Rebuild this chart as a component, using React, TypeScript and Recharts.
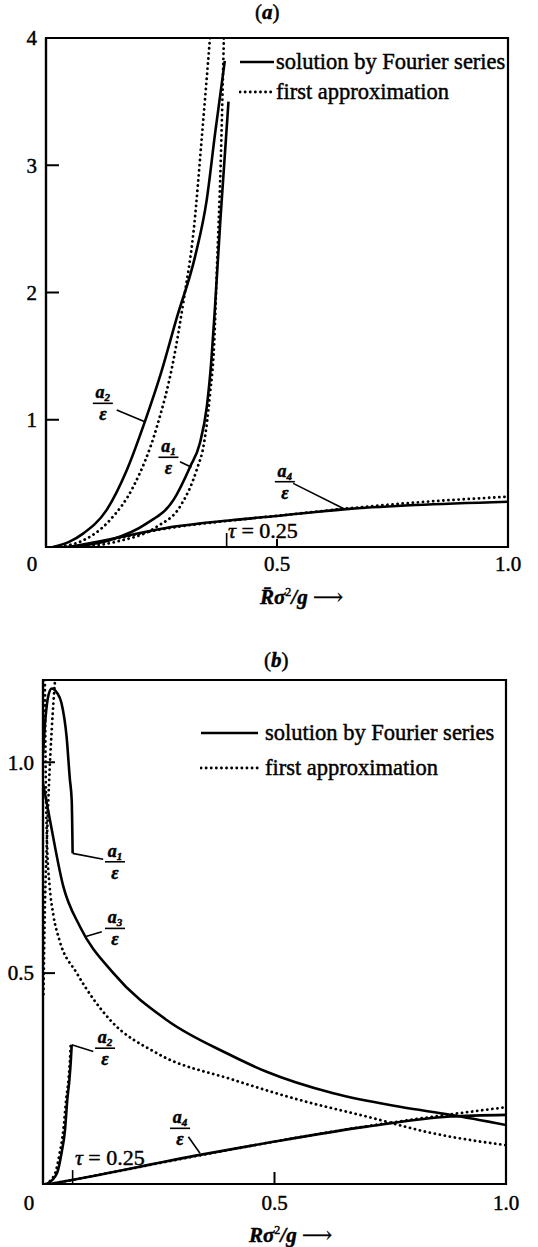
import React from "react";
import {
  LineChart,
  Line,
  XAxis,
  YAxis,
  ReferenceArea,
  ReferenceLine,
  ReferenceDot,
  Legend,
} from "recharts";

const SERIF = "'Liberation Serif', 'DejaVu Serif', serif";

// ---- panel (a) ----
const aTicksX = [0, 0.5, 1];
const aTicksY = [1, 2, 3, 4];

const aA2FourierX = [0.015, 0.05, 0.081, 0.131, 0.175, 0.214, 0.25, 0.283, 0.3225, 0.348, 0.366, 0.387];
const aA2FourierY = [0, 0.04, 0.107, 0.29, 0.605, 0.985, 1.38, 1.8, 2.28, 2.73, 3.25, 3.82];
const aA2ApproxX = [0.02, 0.074, 0.1385, 0.189, 0.24, 0.276, 0.298, 0.32, 0.338, 0.355];
const aA2ApproxY = [0, 0.042, 0.212, 0.474, 0.945, 1.47, 1.94, 2.5, 3.25, 4.0];

const aA1FourierX = [0.045, 0.139, 0.218, 0.276, 0.312, 0.333, 0.348, 0.358, 0.366, 0.378, 0.395];
const aA1FourierY = [0, 0.055, 0.186, 0.37, 0.631, 0.815, 1.1, 1.47, 1.9, 2.6, 3.5];
const aA1ApproxX = [0.07, 0.153, 0.24, 0.29, 0.326, 0.342, 0.355, 0.364, 0.37, 0.378, 0.385];
const aA1ApproxY = [0, 0.042, 0.16, 0.317, 0.605, 0.815, 1.2, 1.6, 2.2, 3.0, 4.0];

const aA4X = [0.05, 0.117, 0.26, 0.405, 0.5, 0.644, 0.8, 1.0];
const aA4FourierY = [0, 0.045, 0.15, 0.212, 0.244, 0.296, 0.33, 0.356];
const aA4ApproxY = [0, 0.04, 0.145, 0.21, 0.245, 0.3, 0.35, 0.395];

// ---- panel (b) ----
const bTicksX = [0, 0.5, 1];
const bTicksY = [0.5, 1.0];

const bA1FourierX = [0, 0.005, 0.012, 0.019, 0.03, 0.04, 0.051, 0.058, 0.062, 0.064];
const bA1FourierY = [1.02, 1.1, 1.16, 1.175, 1.165, 1.14, 1.06, 0.96, 0.91, 0.784];
const bA1ApproxX = [0.001, 0.004, 0.008, 0.013, 0.019, 0.026];
const bA1ApproxY = [0.45, 0.65, 0.8, 0.95, 1.08, 1.195];

const bA3FourierX = [0, 0.015, 0.044, 0.08, 0.152, 0.267, 0.397, 0.483, 0.627, 0.771, 0.879, 1.0];
const bA3FourierY = [0.95, 0.863, 0.705, 0.61, 0.5, 0.389, 0.31, 0.266, 0.215, 0.183, 0.164, 0.14];
const bA3ApproxX = [0.004, 0.006, 0.009, 0.014, 0.022, 0.035, 0.073, 0.145, 0.246, 0.411, 0.555, 0.699, 0.843, 1.0];
const bA3ApproxY = [1.195, 0.96, 0.8, 0.71, 0.64, 0.58, 0.5, 0.389, 0.31, 0.247, 0.199, 0.16, 0.12, 0.092];

const bA2FourierX = [0.008, 0.03, 0.04, 0.0475, 0.0525, 0.057, 0.06, 0.062];
const bA2FourierY = [0, 0.025, 0.073, 0.128, 0.2, 0.247, 0.29, 0.33];
const bA2ApproxX = [0.006, 0.026, 0.036, 0.044, 0.05, 0.055, 0.058, 0.06];
const bA2ApproxY = [0, 0.025, 0.073, 0.128, 0.2, 0.247, 0.29, 0.335];

const bA4X = [0.015, 0.065, 0.339, 0.497, 0.699, 0.879, 1.0];
const bA4FourierY = [0, 0.01, 0.069, 0.1, 0.136, 0.16, 0.164];
const bA4ApproxY = [0, 0.01, 0.068, 0.1, 0.137, 0.165, 0.182];

const legendLabels = ["solution by Fourier series", "first approximation"];

const zip = (xs: number[], ys: number[]) => xs.map((x, i) => ({ x, y: ys[i] }));

const solid = { stroke: "#000", strokeWidth: 2.6 };
const dotted = { stroke: "#000", strokeWidth: 2.8, strokeDasharray: "0.1 5", strokeLinecap: "round" as const };

// heavier glyphs, like ink-spread print
const svgText = { fontFamily: SERIF, stroke: "#000", strokeWidth: 0.45 };

const curve = (key: string, pts: { x: number; y: number }[], style: object) => (
  <Line
    key={key}
    data={pts}
    dataKey="y"
    type="monotone"
    dot={false}
    activeDot={false}
    isAnimationActive={false}
    {...style}
  />
);

// x ticks point inward from the bottom edge; the origin "0" is shifted left
const makeXTick = (len: number, drop: number) => (props: any) => {
  const { x, y, payload } = props;
  const v = payload.value as number;
  return (
    <g>
      {v > 0 && v < 1 && <line x1={x} x2={x} y1={y} y2={y - len} stroke="#000" strokeWidth={2} />}
      <text x={v === 0 ? x - 14 : x} y={y + drop} textAnchor="middle" style={{ ...svgText, fontSize: 21 }} fill="#000">
        {v === 0 ? "0" : v.toFixed(1)}
      </text>
    </g>
  );
};

// y ticks point inward from the left edge
const makeYTick = (len: number, gap: number, digits: number) => (props: any) => {
  const { x, y, payload } = props;
  const v = payload.value as number;
  return (
    <g>
      <line x1={x} x2={x + len} y1={y} y2={y} stroke="#000" strokeWidth={2} />
      <text x={x - gap} y={y} dy="0.35em" textAnchor="end" style={{ ...svgText, fontSize: 21 }} fill="#000">
        {v.toFixed(digits)}
      </text>
    </g>
  );
};

// a_n / ε stacked over a short bar, centred on the bar
const fracFont = { ...svgText, fontSize: 18, fontStyle: "italic" as const, fontWeight: 700 };

const Frac = ({ cx, cy, sub }: any) => (
  <g fill="#000">
    <text x={cx} y={cy - 5} textAnchor="middle" style={fracFont}>
      a<tspan style={{ fontSize: 11 }} dy={3}>{sub}</tspan>
    </text>
    <line x1={cx - 10} x2={cx + 10} y1={cy} y2={cy} stroke="#000" strokeWidth={1.6} />
    <text x={cx} y={cy + 17} textAnchor="middle" style={fracFont}>
      ε
    </text>
  </g>
);

const Tau = ({ cx, cy }: any) => (
  <text x={cx} y={cy} style={{ ...svgText, fontSize: 22 }} fill="#000">
    <tspan style={{ fontStyle: "italic" }}>τ</tspan> = 0.25
  </text>
);

const fracDot = (x: number, y: number, sub: string) => (
  <ReferenceDot x={x} y={y} r={0} shape={(p: any) => <Frac {...p} sub={sub} />} />
);

const leader = (x1: number, y1: number, x2: number, y2: number) => (
  <ReferenceLine segment={[{ x: x1, y: y1 }, { x: x2, y: y2 }]} stroke="#000" strokeWidth={1.6} />
);

const makeKey = (sample: number, gap: number, row: number) => () => (
  <div style={{ fontFamily: SERIF, fontSize: 22.5, color: "#000", WebkitTextStroke: "0.45px #000" }}>
    {legendLabels.map((label, i) => (
      <div key={label} style={{ display: "flex", alignItems: "center", height: row, whiteSpace: "nowrap" }}>
        <svg width={sample} height={8} style={{ marginRight: gap }}>
          <line
            x1={1}
            x2={sample - 1}
            y1={4}
            y2={4}
            stroke="#000"
            strokeWidth={i === 0 ? 2.6 : 2.8}
            strokeDasharray={i === 0 ? undefined : "0.1 5"}
            strokeLinecap={i === 0 ? "butt" : "round"}
          />
        </svg>
        <span>{label}</span>
      </div>
    ))}
  </div>
);

const textAt = (left: number, top: number, size: number, children: React.ReactNode) => (
  <div
    style={{
      position: "absolute",
      left,
      top,
      fontFamily: SERIF,
      fontSize: size,
      lineHeight: `${size}px`,
      whiteSpace: "nowrap",
      color: "#000",
      WebkitTextStroke: "0.45px #000",
    }}
  >
    {children}
  </div>
);

const axisLine = { stroke: "#000", strokeWidth: 2.2 };

export default function App() {
  return (
    <div style={{ position: "absolute", left: 0, top: 0, width: 538, height: 1247, background: "#fff" }}>
      <div style={{ position: "absolute", left: 0, top: 0 }}>
        <LineChart width={538} height={620} margin={{ top: 38, right: 30, bottom: 0, left: 0 }}>
          <XAxis
            type="number"
            dataKey="x"
            domain={[0, 1]}
            ticks={aTicksX}
            interval={0}
            height={73}
            tickSize={0}
            tickMargin={0}
            tickLine={false}
            axisLine={axisLine}
            tick={makeXTick(8, 24)}
            allowDataOverflow
          />
          <YAxis
            type="number"
            domain={[0, 4]}
            ticks={aTicksY}
            interval={0}
            width={46}
            tickSize={0}
            tickMargin={0}
            tickLine={false}
            axisLine={axisLine}
            tick={makeYTick(13, 9, 0)}
            allowDataOverflow
          />
          <ReferenceArea x1={0} x2={1} y1={0} y2={4} fill="none" stroke="#000" strokeWidth={2.2} />
          {curve("a2f", zip(aA2FourierX, aA2FourierY), solid)}
          {curve("a2a", zip(aA2ApproxX, aA2ApproxY), dotted)}
          {curve("a1f", zip(aA1FourierX, aA1FourierY), solid)}
          {curve("a1a", zip(aA1ApproxX, aA1ApproxY), dotted)}
          {curve("a4f", zip(aA4X, aA4FourierY), solid)}
          {curve("a4a", zip(aA4X, aA4ApproxY), dotted)}
          {leader(0.153, 1.077, 0.214, 0.985)}
          {leader(0.29, 0.67, 0.315, 0.626)}
          {leader(0.535, 0.5, 0.647, 0.296)}
          {leader(0.391, 0, 0.391, 0.11)}
          {fracDot(0.123, 1.129, "2")}
          {fracDot(0.265, 0.705, "1")}
          {fracDot(0.517, 0.513, "4")}
          <ReferenceDot x={0.394} y={0.07} r={0} shape={(p: any) => <Tau {...p} />} />
          <Legend
            layout="vertical"
            align="center"
            verticalAlign="middle"
            wrapperStyle={{ left: 239, top: 47, width: 290 }}
            content={makeKey(36, 1, 30)}
          />
        </LineChart>
      </div>
      {textAt(255, 2, 21, <span>(<i style={{ fontWeight: 700 }}>a</i>)</span>)}
      {textAt(260, 582, 21, (
        <span>
          <i style={{ fontWeight: 700 }}>R&#772;σ</i>
          <sup style={{ fontSize: 12 }}>2</sup>
          <i style={{ fontWeight: 700 }}>/g</i> ⟶
        </span>
      ))}

      <div style={{ position: "absolute", left: 0, top: 620 }}>
        <LineChart width={538} height={627} margin={{ top: 60, right: 32, bottom: 0, left: 0 }}>
          <XAxis
            type="number"
            dataKey="x"
            domain={[0, 1]}
            ticks={bTicksX}
            interval={0}
            height={63}
            tickSize={0}
            tickMargin={0}
            tickLine={false}
            axisLine={axisLine}
            tick={makeXTick(12, 26)}
            allowDataOverflow
          />
          <YAxis
            type="number"
            domain={[0, 1.195]}
            ticks={bTicksY}
            interval={0}
            width={43}
            tickSize={0}
            tickMargin={0}
            tickLine={false}
            axisLine={axisLine}
            tick={makeYTick(12, 9, 1)}
            allowDataOverflow
          />
          <ReferenceArea x1={0} x2={1} y1={0} y2={1.195} fill="none" stroke="#000" strokeWidth={2.2} />
          {curve("b1f", zip(bA1FourierX, bA1FourierY), solid)}
          {curve("b1a", zip(bA1ApproxX, bA1ApproxY), dotted)}
          {curve("b3f", zip(bA3FourierX, bA3FourierY), solid)}
          {curve("b3a", zip(bA3ApproxX, bA3ApproxY), dotted)}
          {curve("b2f", zip(bA2FourierX, bA2FourierY), solid)}
          {curve("b2a", zip(bA2ApproxX, bA2ApproxY), dotted)}
          {curve("b4f", zip(bA4X, bA4FourierY), solid)}
          {curve("b4a", zip(bA4X, bA4ApproxY), dotted)}
          {leader(0.064, 0.784, 0.13, 0.77)}
          {leader(0.0907, 0.586, 0.127, 0.598)}
          {leader(0.062, 0.33, 0.1086, 0.314)}
          {leader(0.314, 0.112, 0.339, 0.073)}
          {leader(0.064, 0, 0.064, 0.033)}
          {fracDot(0.1555, 0.764, "1")}
          {fracDot(0.1555, 0.606, "3")}
          {fracDot(0.134, 0.322, "2")}
          {fracDot(0.296, 0.132, "4")}
          <ReferenceDot x={0.069} y={0.045} r={0} shape={(p: any) => <Tau {...p} />} />
          <Legend
            layout="vertical"
            align="center"
            verticalAlign="middle"
            wrapperStyle={{ left: 200, top: 95, width: 320 }}
            content={makeKey(59, 6, 35)}
          />
        </LineChart>
      </div>
      {textAt(264, 650, 21, <span>(<i style={{ fontWeight: 700 }}>b</i>)</span>)}
      {textAt(249, 1220, 21, (
        <span>
          <i style={{ fontWeight: 700 }}>Rσ</i>
          <sup style={{ fontSize: 12 }}>2</sup>
          <i style={{ fontWeight: 700 }}>/g</i> ⟶
        </span>
      ))}
    </div>
  );
}
